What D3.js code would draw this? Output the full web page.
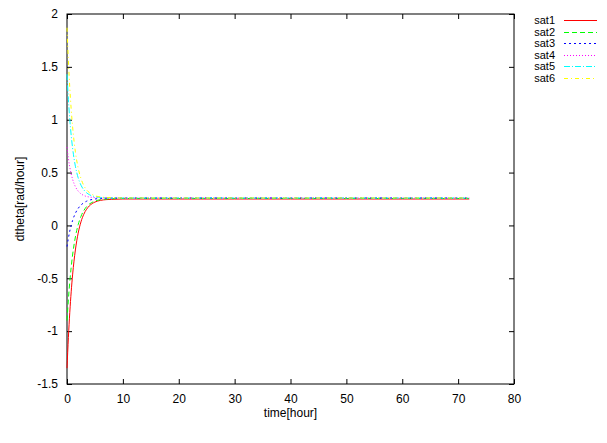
<!DOCTYPE html>
<html>
<head>
<meta charset="utf-8">
<script src="https://cdn.jsdelivr.net/npm/d3@7"></script>
<style>
body { margin: 0; background: #fff; }
text { font-family: "Liberation Sans", Arial, sans-serif; font-size: 12px; fill: #000; }
</style>
</head>
<body>
<div id="chart"></div>
<script>
// time samples [hour]
const times = [0, 0.25, 0.5, 0.75, 1, 1.5, 2, 2.5, 3, 3.5, 4, 5, 6, 7, 8, 10, 15, 20, 30, 40, 50, 60, 72];

// dtheta per satellite [rad/hour]
const sat1 = [-1.35, -1.06, -0.822, -0.628, -0.468, -0.232, -0.073, 0.034, 0.105, 0.153, 0.185, 0.221, 0.237, 0.244, 0.247, 0.25, 0.25, 0.25, 0.25, 0.25, 0.25, 0.25, 0.25];
const sat2 = [-0.9, -0.698, -0.532, -0.394, -0.28, -0.109, 0.007, 0.086, 0.14, 0.177, 0.202, 0.23, 0.244, 0.25, 0.253, 0.255, 0.255, 0.255, 0.255, 0.255, 0.255, 0.255, 0.255];
const sat3 = [-0.2, -0.12, -0.053, 0.001, 0.047, 0.115, 0.161, 0.193, 0.214, 0.229, 0.239, 0.25, 0.255, 0.258, 0.259, 0.26, 0.26, 0.26, 0.26, 0.26, 0.26, 0.26, 0.26];
const sat4 = [0.74, 0.634, 0.551, 0.487, 0.437, 0.367, 0.325, 0.299, 0.284, 0.274, 0.269, 0.263, 0.261, 0.26, 0.26, 0.26, 0.26, 0.26, 0.26, 0.26, 0.26, 0.26, 0.26];
const sat5 = [1.43, 1.192, 1.003, 0.852, 0.732, 0.56, 0.45, 0.381, 0.337, 0.309, 0.291, 0.272, 0.265, 0.262, 0.261, 0.26, 0.26, 0.26, 0.26, 0.26, 0.26, 0.26, 0.26];
const sat6 = [1.87, 1.556, 1.302, 1.099, 0.935, 0.696, 0.543, 0.444, 0.378, 0.337, 0.31, 0.281, 0.269, 0.264, 0.262, 0.26, 0.26, 0.26, 0.26, 0.26, 0.26, 0.26, 0.26];

const seriesNames = ["sat1", "sat2", "sat3", "sat4", "sat5", "sat6"];
const seriesValues = [sat1, sat2, sat3, sat4, sat5, sat6];

const xTicks = [0, 10, 20, 30, 40, 50, 60, 70, 80];
const yTicks = [-1.5, -1, -0.5, 0, 0.5, 1, 1.5, 2];

// gnuplot-ish line styles
const colors = ["#ff0000", "#00ff00", "#0000ff", "#ff00ff", "#00ffff", "#ffff00"];
const dashes = [null, "5,3", "2,3", "1,2", "6,2,1,2", "4,3,1,3"];

const w = 607, h = 443;
const mLeft = 67, mRight = 514, mTop = 14, mBottom = 384;

const svg = d3.select("#chart").append("svg")
    .attr("width", w)
    .attr("height", h);

const x = d3.scaleLinear().domain([0, 80]).range([mLeft, mRight]);
const y = d3.scaleLinear().domain([-1.5, 2]).range([mBottom, mTop]);

// ticks go inside, mirrored on all four sides
const tl = 5;
svg.append("g").attr("transform", `translate(0,${mBottom})`)
    .call(d3.axisBottom(x).tickValues(xTicks).tickSizeInner(-tl).tickSizeOuter(0).tickPadding(10).tickFormat(d3.format("d")));
svg.append("g").attr("transform", `translate(0,${mTop})`)
    .call(d3.axisTop(x).tickValues(xTicks).tickSizeInner(-tl).tickSizeOuter(0).tickFormat(""));
svg.append("g").attr("transform", `translate(${mLeft},0)`)
    .call(d3.axisLeft(y).tickValues(yTicks).tickSizeInner(-tl).tickSizeOuter(0).tickPadding(9).tickFormat(d => d));
svg.append("g").attr("transform", `translate(${mRight},0)`)
    .call(d3.axisRight(y).tickValues(yTicks).tickSizeInner(-tl).tickSizeOuter(0).tickFormat(""));

svg.selectAll(".domain").remove();
svg.selectAll(".tick line").attr("stroke", "#000");
svg.selectAll(".tick text").style("font-size", "12px").attr("fill", "#000");

// border
svg.append("rect")
    .attr("x", mLeft).attr("y", mTop)
    .attr("width", mRight - mLeft).attr("height", mBottom - mTop)
    .attr("fill", "none").attr("stroke", "#000").attr("stroke-width", 1);

const line = d3.line()
    .x(d => x(d[0]))
    .y(d => y(d[1]))
    .curve(d3.curveMonotoneX);

seriesValues.forEach(function(vals, i) {
    const pts = times.map((t, j) => [t, vals[j]]);
    svg.append("path")
        .attr("d", line(pts))
        .attr("fill", "none")
        .attr("stroke", colors[i])
        .attr("stroke-width", 1)
        .attr("stroke-dasharray", dashes[i]);
});

// legend
const lg = svg.append("g");
seriesNames.forEach(function(name, i) {
    const ly = 20 + Math.round(i * 11.6);
    lg.append("text")
        .attr("x", 555).attr("y", ly)
        .attr("dy", "0.35em")
        .attr("text-anchor", "end")
        .style("font-size", "11px")
        .text(name);
    lg.append("line")
        .attr("x1", 564).attr("x2", 597)
        .attr("y1", ly + 0.5).attr("y2", ly + 0.5)
        .attr("stroke", colors[i])
        .attr("stroke-width", 1)
        .attr("stroke-dasharray", dashes[i]);
});

// axis labels
svg.append("text")
    .attr("x", (mLeft + mRight) / 2).attr("y", 417)
    .attr("text-anchor", "middle")
    .text("time[hour]");
svg.append("text")
    .attr("transform", `translate(24,${(mTop + mBottom) / 2}) rotate(-90)`)
    .attr("text-anchor", "middle")
    .text("dtheta[rad/hour]");
</script>
</body>
</html>
